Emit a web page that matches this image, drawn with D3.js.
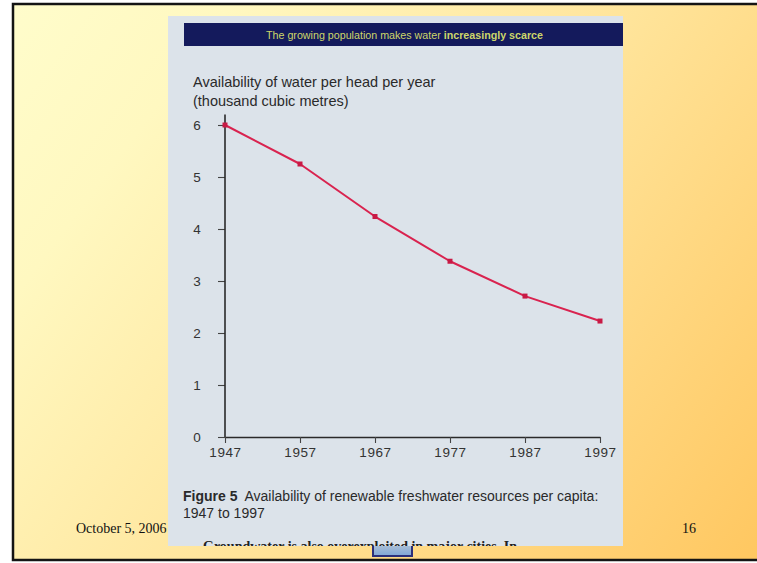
<!DOCTYPE html>
<html>
<head>
<meta charset="utf-8">
<script src="https://cdn.jsdelivr.net/npm/d3@7"></script>
<style>
  body { margin: 0; background: #fff; }
  svg { display: block; }
</style>
</head>
<body>
<div id="chart"></div>
<script>
// data
const years = [1947, 1957, 1967, 1977, 1987, 1997];
const availability = [6.0, 5.25, 4.24, 3.38, 2.71, 2.23];
const yTicks = [0, 1, 2, 3, 4, 5, 6];
const xTicks = [1947, 1957, 1967, 1977, 1987, 1997];

const width = 757, height = 563;

const svg = d3.select("#chart").append("svg")
    .attr("width", width)
    .attr("height", height);

const defs = svg.append("defs");
const bg = defs.append("linearGradient")
    .attr("id", "slideBg")
    .attr("gradientUnits", "userSpaceOnUse")
    .attr("x1", 0).attr("y1", 0).attr("x2", width).attr("y2", height);
bg.append("stop").attr("offset", "0%").attr("stop-color", "#fffdcc");
bg.append("stop").attr("offset", "20%").attr("stop-color", "#fff8c0");
bg.append("stop").attr("offset", "55%").attr("stop-color", "#ffe49a");
bg.append("stop").attr("offset", "100%").attr("stop-color", "#ffc760");

const iconGrad = defs.append("linearGradient")
    .attr("id", "iconBg").attr("x1", 0).attr("y1", 0).attr("x2", 0).attr("y2", 1);
iconGrad.append("stop").attr("offset", "0%").attr("stop-color", "#e8e2d0");
iconGrad.append("stop").attr("offset", "100%").attr("stop-color", "#7fa6d8");

// picture bounds
const pic = { x: 168, y: 16, w: 455, h: 530 };
defs.append("clipPath").attr("id", "picClip")
    .append("rect")
    .attr("x", pic.x).attr("y", pic.y).attr("width", pic.w).attr("height", pic.h);

// slide background + frame (right edge runs off the page)
svg.append("rect")
    .attr("x", 13).attr("y", 4).attr("width", 750).attr("height", 556)
    .attr("fill", "url(#slideBg)")
    .attr("stroke", "#141414")
    .attr("stroke-width", 2.5);

// footer
svg.append("text")
    .attr("x", 76).attr("y", 533)
    .attr("font-family", "Liberation Serif, Times New Roman, serif")
    .attr("font-size", 14)
    .attr("fill", "#111")
    .text("October 5, 2006");
svg.append("text")
    .attr("x", 689).attr("y", 533)
    .attr("text-anchor", "middle")
    .attr("font-family", "Liberation Serif, Times New Roman, serif")
    .attr("font-size", 14)
    .attr("fill", "#111")
    .text("16");

// little logo peeking out below the picture
svg.append("rect")
    .attr("x", 373).attr("y", 530).attr("width", 39).attr("height", 26)
    .attr("fill", "url(#iconBg)")
    .attr("stroke", "#2b2f7a")
    .attr("stroke-width", 2);

// scanned figure
const g = svg.append("g").attr("clip-path", "url(#picClip)");

g.append("rect")
    .attr("x", pic.x).attr("y", pic.y).attr("width", pic.w).attr("height", pic.h)
    .attr("fill", "#dce3ea");

g.append("rect")
    .attr("x", 184).attr("y", 23).attr("width", 445).attr("height", 23)
    .attr("fill", "#141a5c");

g.append("text")
    .attr("x", 266).attr("y", 39)
    .attr("font-family", "Liberation Sans Narrow, Arial Narrow, sans-serif")
    .attr("font-size", 11)
    .attr("fill", "#cdd66a")
    .attr("textLength", 277)
    .attr("lengthAdjust", "spacingAndGlyphs")
    .html('The growing population makes water <tspan font-weight="bold">increasingly scarce</tspan>');

const axisFont = "Liberation Sans, Arial, sans-serif";

g.append("text")
    .attr("x", 193).attr("y", 87)
    .attr("font-family", axisFont)
    .attr("font-size", 14.5)
    .attr("fill", "#2a2a2a")
    .text("Availability of water per head per year");
g.append("text")
    .attr("x", 193).attr("y", 106)
    .attr("font-family", axisFont)
    .attr("font-size", 14.5)
    .attr("fill", "#2a2a2a")
    .text("(thousand cubic metres)");

const x = d3.scaleLinear().domain([1947, 1997]).range([225, 600]);
const y = d3.scaleLinear().domain([0, 6]).range([437, 125]);

// y axis
const yAxis = g.append("g")
    .attr("transform", `translate(${x(1947)},0)`)
    .call(d3.axisLeft(y).tickValues(yTicks).tickFormat(d3.format("d")).tickSize(7).tickSizeOuter(0));
yAxis.select(".domain").remove();
yAxis.append("line")
    .attr("x1", 0).attr("x2", 0)
    .attr("y1", y(0)).attr("y2", y(6.2))
    .attr("stroke", "#2a2a2a").attr("stroke-width", 1.6);
yAxis.selectAll(".tick line").attr("stroke", "#444").attr("stroke-width", 1.1);
yAxis.selectAll(".tick text")
    .attr("font-family", axisFont)
    .attr("font-size", 13.5)
    .attr("fill", "#333")
    .attr("text-anchor", "middle")
    .attr("x", -28);

// x axis
const xAxis = g.append("g")
    .attr("transform", `translate(0,${y(0)})`)
    .call(d3.axisBottom(x).tickValues(xTicks).tickFormat(d3.format("d")).tickSize(6).tickPadding(4).tickSizeOuter(0));
xAxis.select(".domain").attr("stroke", "#2a2a2a").attr("stroke-width", 1.6);
xAxis.selectAll(".tick line").attr("stroke", "#444").attr("stroke-width", 1.1);
xAxis.selectAll(".tick text")
    .attr("font-family", axisFont)
    .attr("font-size", 13.5)
    .attr("letter-spacing", 0.6)
    .attr("fill", "#333");

// series
const pts = years.map((yr, i) => ({ year: yr, value: availability[i] }));
const line = d3.line().x(d => x(d.year)).y(d => y(d.value));

g.append("path")
    .datum(pts)
    .attr("d", line)
    .attr("fill", "none")
    .attr("stroke", "#d9234f")
    .attr("stroke-width", 2)
    .attr("stroke-linejoin", "round");

g.selectAll(".marker")
    .data(pts)
    .join("rect")
    .attr("class", "marker")
    .attr("x", d => x(d.year) - 2.5)
    .attr("y", d => y(d.value) - 2.5)
    .attr("width", 5)
    .attr("height", 5)
    .attr("fill", "#c81a45");

// caption
g.append("text")
    .attr("x", 183).attr("y", 501)
    .attr("font-family", axisFont)
    .attr("font-size", 14)
    .attr("fill", "#2a2a2a")
    .attr("xml:space", "preserve")
    .html('<tspan font-weight="bold">Figure 5</tspan>  Availability of renewable freshwater resources per capita:');
g.append("text")
    .attr("x", 183).attr("y", 518)
    .attr("font-family", axisFont)
    .attr("font-size", 14)
    .attr("fill", "#2a2a2a")
    .text("1947 to 1997");

// body text cut off by the scan edge
g.append("text")
    .attr("x", 203).attr("y", 551)
    .attr("font-family", "Liberation Serif, serif")
    .attr("font-size", 14)
    .attr("font-weight", "bold")
    .attr("fill", "#222")
    .text("Groundwater is also overexploited in major cities. In");
</script>
</body>
</html>
